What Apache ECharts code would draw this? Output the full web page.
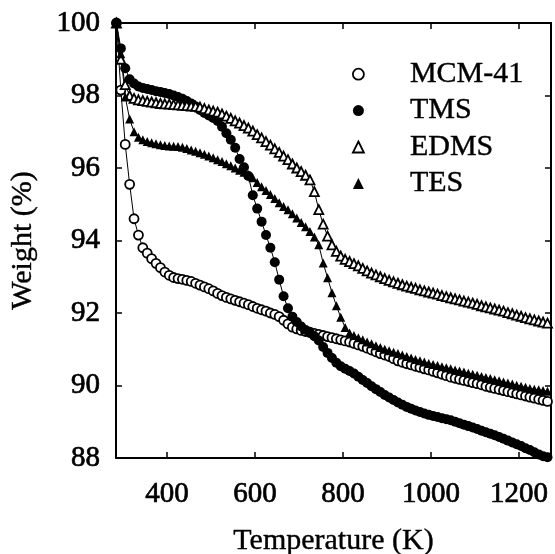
<!DOCTYPE html>
<html>
<head>
<meta charset="utf-8">
<script src="https://cdn.jsdelivr.net/npm/echarts@6/dist/echarts.min.js"></script>
<style>html,body{margin:0;padding:0;background:#fff;}#c{width:555px;height:554px;}</style>
</head>
<body>
<div id="c"></div>
<script>
const temperature = [285,295,305,315,325,335,345,355,365,375,385,395,405,415,425,435,445,455,465,475,485,495,505,515,525,535,545,555,565,575,585,595,605,615,625,635,645,655,665,675,685,695,705,715,725,735,745,755,765,775,785,795,805,815,825,835,845,855,865,875,885,895,905,915,925,935,945,955,965,975,985,995,1005,1015,1025,1035,1045,1055,1065,1075,1085,1095,1105,1115,1125,1135,1145,1155,1165,1175,1185,1195,1205,1215,1225,1235,1245,1255,1265];
const mcm41 = [100,98.15,96.65,95.55,94.6,94.15,93.8,93.65,93.5,93.37,93.25,93.13,93.04,92.98,92.95,92.93,92.9,92.87,92.82,92.77,92.72,92.67,92.61,92.54,92.48,92.43,92.39,92.35,92.31,92.27,92.23,92.18,92.13,92.09,92.05,92.0,91.96,91.9,91.8,91.7,91.61,91.56,91.52,91.49,91.47,91.44,91.41,91.38,91.35,91.32,91.29,91.26,91.23,91.2,91.16,91.12,91.08,91.03,90.98,90.93,90.88,90.84,90.8,90.74,90.68,90.64,90.6,90.57,90.53,90.5,90.46,90.43,90.39,90.35,90.31,90.27,90.23,90.2,90.17,90.14,90.11,90.08,90.05,90.02,89.98,89.95,89.92,89.89,89.86,89.83,89.8,89.77,89.74,89.71,89.68,89.65,89.62,89.59,89.56];
const tms = [100,99.3,98.75,98.45,98.33,98.25,98.21,98.18,98.15,98.12,98.1,98.07,98.04,98.0,97.96,97.91,97.85,97.78,97.7,97.6,97.52,97.45,97.38,97.3,97.14,96.96,96.78,96.56,96.25,96.02,95.78,95.25,94.88,94.52,94.15,93.8,93.4,92.92,92.46,92.13,91.9,91.75,91.63,91.53,91.45,91.36,91.24,91.06,90.9,90.76,90.63,90.53,90.46,90.4,90.33,90.24,90.15,90.07,89.98,89.9,89.82,89.74,89.67,89.6,89.53,89.47,89.41,89.36,89.31,89.27,89.23,89.19,89.16,89.13,89.1,89.07,89.04,89.0,88.96,88.92,88.88,88.84,88.8,88.75,88.71,88.67,88.63,88.58,88.53,88.48,88.43,88.38,88.33,88.27,88.22,88.16,88.1,88.05,88.02];
const edms = [100,99.0,98.3,98.0,97.92,97.88,97.86,97.84,97.82,97.8,97.78,97.77,97.76,97.75,97.74,97.73,97.72,97.71,97.7,97.68,97.64,97.6,97.57,97.54,97.49,97.43,97.37,97.3,97.24,97.17,97.1,97.02,96.92,96.83,96.73,96.63,96.53,96.43,96.33,96.23,96.11,96.0,95.9,95.8,95.67,95.35,94.85,94.45,94.12,93.88,93.7,93.57,93.48,93.42,93.36,93.3,93.23,93.16,93.1,93.05,93.0,92.95,92.9,92.86,92.82,92.78,92.74,92.71,92.68,92.64,92.61,92.58,92.55,92.52,92.48,92.45,92.42,92.39,92.36,92.33,92.3,92.27,92.24,92.2,92.17,92.14,92.11,92.08,92.05,92.01,91.98,91.94,91.91,91.87,91.84,91.81,91.78,91.75,91.72];
const tes = [100,99.15,97.96,97.35,97.0,96.85,96.78,96.73,96.7,96.67,96.64,96.62,96.61,96.6,96.59,96.57,96.54,96.5,96.46,96.42,96.38,96.33,96.28,96.23,96.18,96.12,96.06,96.0,95.94,95.88,95.82,95.73,95.6,95.48,95.38,95.27,95.16,95.04,94.94,94.85,94.74,94.62,94.5,94.38,94.25,94.1,93.88,93.38,92.97,92.56,92.2,91.88,91.6,91.45,91.38,91.32,91.26,91.2,91.15,91.1,91.05,91.0,90.96,90.92,90.88,90.84,90.8,90.76,90.72,90.68,90.65,90.61,90.58,90.55,90.52,90.49,90.46,90.43,90.4,90.37,90.34,90.31,90.28,90.25,90.22,90.19,90.16,90.13,90.1,90.07,90.04,90.01,89.98,89.95,89.92,89.9,89.88,89.86,89.84];
const xTicks = [400,600,800,1000,1200];
const yMin = 88, yMax = 100, yStep = 2;
const xMin = 284, xMax = 1273;
const seriesNames = ['MCM-41','TMS','EDMS','TES'];
const xTitle = 'Temperature (K)';
const yTitle = 'Weight (%)';

const FONT = '"Liberation Serif","Times New Roman",serif';
const heavy = {textBorderColor:'#000', textBorderWidth:0.7};
const light = {textBorderColor:'#000', textBorderWidth:0.4};
const pair = arr => temperature.map((t,i)=>[t, arr[i]]);
const openStyle = {color:'#fff', borderColor:'#000', borderWidth:1.8};
const fillStyle = {color:'#000', borderColor:'#000', borderWidth:0};
const specs = [
  {data: mcm41, symbol:'circle', size:9, style: openStyle},
  {data: tms, symbol:'circle', size:10, style: fillStyle},
  {data: edms, symbol:'triangle', size:9, style: openStyle},
  {data: tes, symbol:'triangle', size:9, style: fillStyle}
];

const chart = echarts.init(document.getElementById('c'), null, {renderer:'canvas'});
const axisCommon = {
  axisLine:{show:true, onZero:false, lineStyle:{color:'#000', width:2}},
  splitLine:{show:false}
};
chart.setOption({
  backgroundColor:'#fff',
  animation:false,
  grid:{left:116, right:4, top:23, bottom:96, containLabel:false, outerBoundsMode:'none'},
  legend:{
    orient:'vertical', left:347, top:54, itemGap:6,
    itemWidth:11, itemHeight:11,
    textStyle:Object.assign({fontFamily:FONT, fontSize:30, color:'#000', lineHeight:30, padding:[0,0,0,41]}, light),
    data: seriesNames.map((n,i)=>({name:n, icon: specs[i].symbol, itemStyle: specs[i].style}))
  },
  xAxis:[
    Object.assign({type:'value', min:xMin, max:xMax, position:'bottom',
      name:xTitle, nameLocation:'middle', nameGap:68,
      nameTextStyle:Object.assign({fontFamily:FONT, fontSize:30, color:'#000'}, light),
      axisTick:{show:true, inside:true, length:6, lineStyle:{color:'#000', width:1.5}, customValues:xTicks},
      axisLabel:Object.assign({show:true, margin:22, fontFamily:FONT, fontSize:29, color:'#000', customValues:xTicks, formatter: v => String(v)}, heavy)
    }, axisCommon),
    Object.assign({type:'value', min:xMin, max:xMax, position:'top',
      axisTick:{show:true, inside:true, length:6, lineStyle:{color:'#000', width:1.5}, customValues:xTicks},
      axisLabel:{show:false}
    }, axisCommon)
  ],
  yAxis:[
    Object.assign({type:'value', min:yMin, max:yMax, interval:yStep, position:'left',
      name:yTitle, nameLocation:'middle', nameGap:78, nameRotate:90,
      nameTextStyle:Object.assign({fontFamily:FONT, fontSize:30, color:'#000'}, light),
      axisTick:{show:true, inside:true, length:6, lineStyle:{color:'#000', width:1.5}},
      axisLabel:Object.assign({show:true, margin:16, fontFamily:FONT, fontSize:29, color:'#000', formatter: v => String(v)}, heavy)
    }, axisCommon),
    Object.assign({type:'value', min:yMin, max:yMax, interval:yStep, position:'right',
      axisTick:{show:true, inside:true, length:6, lineStyle:{color:'#000', width:1.5}},
      axisLabel:{show:false}
    }, axisCommon)
  ],
  series: specs.map((s,i)=>({
    name: seriesNames[i], type:'line', data: pair(s.data),
    symbol: s.symbol, symbolSize: s.size, showAllSymbol:true, clip:false,
    lineStyle:{color:'#000', width:1}, itemStyle: s.style,
    emphasis:{disabled:true}
  }))
});
</script>
</body>
</html>
